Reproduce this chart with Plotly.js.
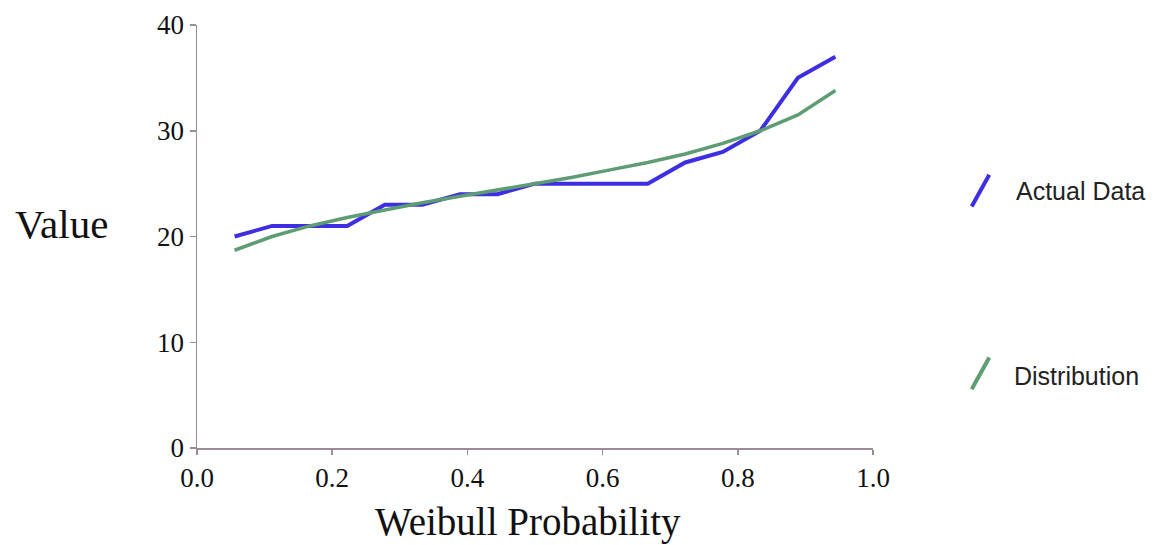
<!DOCTYPE html>
<html>
<head>
<meta charset="utf-8">
<script src="https://cdn.plot.ly/plotly-3.0.1.min.js"></script>
<style>
html,body{margin:0;padding:0;background:#fff;}
#chart{width:1154px;height:545px;}
</style>
</head>
<body>
<div id="chart"></div>
<script>
// Weibull plotting positions i/(n+1), n = 17
const probability = [0.0556,0.1111,0.1667,0.2222,0.2778,0.3333,0.3889,0.4444,0.5,0.5556,0.6111,0.6667,0.7222,0.7778,0.8333,0.8889,0.9444];
const actualData = [20,21,21,21,23,23,24,24,25,25,25,25,27,28,30,35,37];
const distribution = [18.7,20.0,21.0,21.8,22.5,23.2,23.8,24.4,25.0,25.6,26.3,27.0,27.8,28.8,30.0,31.5,33.8];
const seriesNames = ["Actual Data","Distribution"];
const xTickVals = [0,0.2,0.4,0.6,0.8,1.0];
const xTickText = ["0.0","0.2","0.4","0.6","0.8","1.0"];
const yTickVals = [0,10,20,30,40];
const xTitle = "Weibull Probability";
const yTitle = "Value";

const blue = "rgb(62,46,226)";
const green = "rgb(94,156,116)";
const axisCol = "#9c8a96";

const traces = [
  {x: probability, y: actualData, name: seriesNames[0], type: "scatter", mode: "lines",
   line: {color: blue, width: 4}},
  {x: probability, y: distribution, name: seriesNames[1], type: "scatter", mode: "lines",
   line: {color: green, width: 3.5}}
];

const serif = "Liberation Serif, Times New Roman, serif";
const sans = "Liberation Sans, Arial, sans-serif";

const layout = {
  width: 1154, height: 545,
  margin: {l: 197, r: 281, t: 25, b: 97},
  paper_bgcolor: "#fff", plot_bgcolor: "#fff",
  showlegend: false,
  xaxis: {
    range: [0, 1.0], tickvals: xTickVals, ticktext: xTickText,
    showgrid: false, zeroline: false, showline: true, linecolor: axisCol, linewidth: 1.5,
    ticks: "outside", ticklen: 5, tickcolor: axisCol, tickwidth: 1.5,
    tickfont: {family: serif, size: 27, color: "#111"}
  },
  yaxis: {
    range: [0, 40], tickvals: yTickVals,
    showgrid: false, zeroline: false, showline: true, linecolor: axisCol, linewidth: 1.5,
    ticks: "outside", ticklen: 6, tickcolor: axisCol, tickwidth: 1.5,
    tickfont: {family: serif, size: 27, color: "#111"}
  },
  annotations: [
    {text: yTitle, xref: "paper", yref: "paper", x: -0.201, y: 0.53, xanchor: "center", yanchor: "middle",
     showarrow: false, font: {family: serif, size: 41, color: "#111"}},
    {text: xTitle, xref: "paper", yref: "paper", x: 0.49, y: -0.175, xanchor: "center", yanchor: "middle",
     showarrow: false, font: {family: serif, size: 39, color: "#111"}},
    {text: seriesNames[0], xref: "paper", yref: "paper", x: 1.208, y: 0.608, xanchor: "left", yanchor: "middle",
     showarrow: false, font: {family: sans, size: 25, color: "#222"}},
    {text: seriesNames[1], xref: "paper", yref: "paper", x: 1.205, y: 0.171, xanchor: "left", yanchor: "middle",
     showarrow: false, font: {family: sans, size: 25, color: "#222"}}
  ],
  shapes: [
    {type: "line", xref: "paper", yref: "paper", x0: 1.146, y0: 0.571, x1: 1.172, y1: 0.646,
     line: {color: blue, width: 4}},
    {type: "line", xref: "paper", yref: "paper", x0: 1.146, y0: 0.139, x1: 1.172, y1: 0.214,
     line: {color: green, width: 4}}
  ]
};

Plotly.newPlot("chart", traces, layout, {displayModeBar: false, staticPlot: true});
</script>
</body>
</html>
